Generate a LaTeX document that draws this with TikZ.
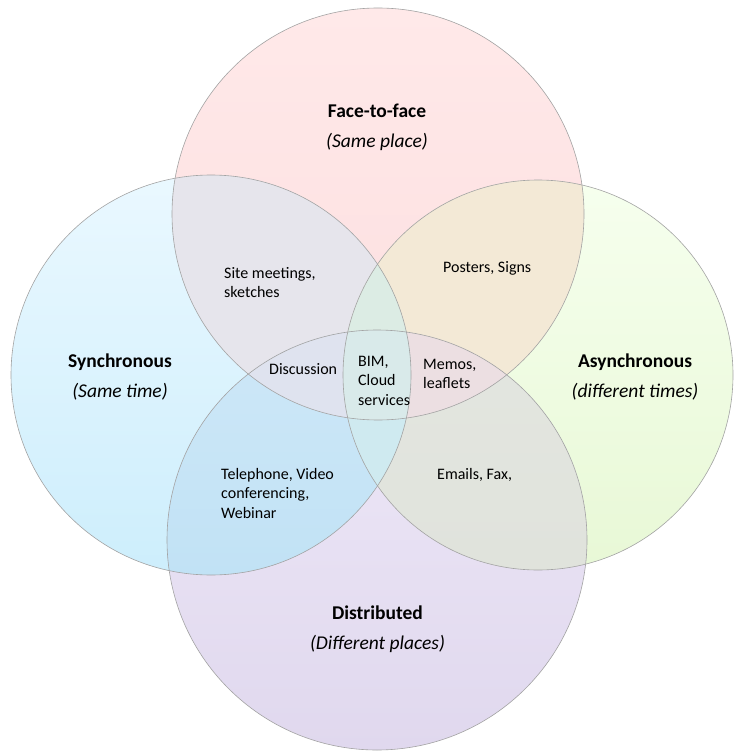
\documentclass[tikz,border=0pt]{standalone}
\usepackage{fontspec}
\setmainfont{Carlito}
\newcommand\LinesL[1]{\vtop{\halign{##\hfil\cr#1\crcr}}}
\newcommand\LinesC[1]{\vtop{\halign{\hfil##\hfil\cr#1\crcr}}}
\begin{document}
\begin{tikzpicture}[x=1pt,y=-1pt,
  outline/.style={draw=black!36,line width=0.6pt},
  body/.style={inner sep=0pt,anchor=base west,font=\fontsize{16}{19.5}\selectfont},
  ttl/.style={inner sep=0pt,anchor=base,font=\fontsize{19.5}{30}\selectfont}]
\definecolor{pinkT}{RGB}{255,233,233}\definecolor{pinkB}{RGB}{252,222,223}
\definecolor{cyanT}{RGB}{234,248,255}\definecolor{cyanB}{RGB}{205,238,252}
\definecolor{grnT}{RGB}{246,255,238}\definecolor{grnB}{RGB}{232,248,214}
\definecolor{purT}{RGB}{239,233,248}\definecolor{purB}{RGB}{224,216,238}
\definecolor{cTL}{RGB}{230,229,236}
\definecolor{cTR}{RGB}{243,233,214}
\definecolor{cLBt}{RGB}{214,235,249}\definecolor{cLBb}{RGB}{193,226,245}
\definecolor{cRBt}{RGB}{229,231,226}\definecolor{cRBb}{RGB}{224,227,220}
\definecolor{cTLB}{RGB}{223,227,239}
\definecolor{cTRB}{RGB}{236,223,226}
\definecolor{cTLR}{RGB}{220,236,228}
\definecolor{cLRB}{RGB}{207,234,240}
\definecolor{cALL}{RGB}{217,234,234}
\useasboundingbox (0,0) rectangle (733,751);
\fill[white] (0,0) rectangle (733,751);
\coordinate (cT) at (378,214);
\coordinate (cL) at (211,375);
\coordinate (cR) at (538,375);
\coordinate (cB) at (377,540);
\def\rT{206}\def\rL{200}\def\rR{195}\def\rB{210}
% single regions
\shade[top color=pinkT,bottom color=pinkB] (cT) circle (\rT);
\shade[top color=cyanT,bottom color=cyanB] (cL) circle (\rL);
\shade[top color=grnT,bottom color=grnB] (cR) circle (\rR);
\shade[top color=purT,bottom color=purB] (cB) circle (\rB);
% pairs
\begin{scope}\clip (cT) circle (\rT); \fill[cTL] (cL) circle (\rL); \end{scope}
\begin{scope}\clip (cT) circle (\rT); \fill[cTR] (cR) circle (\rR); \end{scope}
\begin{scope}\clip (cB) circle (\rB); \shade[top color=cLBt,bottom color=cLBb] (cL) circle (\rL); \end{scope}
\begin{scope}\clip (cB) circle (\rB); \shade[top color=cRBt,bottom color=cRBb] (cR) circle (\rR); \end{scope}
% triples
\begin{scope}\clip (cT) circle (\rT); \clip (cL) circle (\rL); \fill[cTLB] (cB) circle (\rB); \end{scope}
\begin{scope}\clip (cT) circle (\rT); \clip (cR) circle (\rR); \fill[cTRB] (cB) circle (\rB); \end{scope}
\begin{scope}\clip (cT) circle (\rT); \clip (cL) circle (\rL); \fill[cTLR] (cR) circle (\rR); \end{scope}
\begin{scope}\clip (cL) circle (\rL); \clip (cR) circle (\rR); \fill[cLRB] (cB) circle (\rB); \end{scope}
% all four
\begin{scope}\clip (cT) circle (\rT); \clip (cL) circle (\rL); \clip (cR) circle (\rR); \fill[cALL] (cB) circle (\rB); \end{scope}
% outlines
\draw[outline] (cT) circle (\rT);
\draw[outline] (cL) circle (\rL);
\draw[outline] (cR) circle (\rR);
\draw[outline] (cB) circle (\rB);

\node[ttl] (t1) at (377,118) {\LinesC{\textbf{Face-to-face}\cr\textit{(Same place)}}};
\node[ttl] (t2) at (120,367) {\LinesC{\textbf{Synchronous}\cr\textit{(Same time)}}};
\node[ttl] (t3) at (635,367) {\LinesC{\textbf{Asynchronous}\cr\textit{(different times)}}};
\node[ttl] (t4) at (377.5,619) {\LinesC{\textbf{Distributed}\cr\textit{(Different places)}}};

\node[body] (s1) at (224,278) {\LinesL{Site meetings,\cr sketches}};
\node[body] (s2) at (443,272) {Posters, Signs};
\node[body] (s3) at (269,374) {Discussion};
\node[body] (s4) at (358,366) {\LinesL{BIM,\cr Cloud\cr services}};
\node[body] (s5) at (423,369) {\LinesL{Memos,\cr leaflets}};
\node[body] (s6) at (221,479) {\LinesL{Telephone, Video\cr conferencing,\cr Webinar}};
\node[body] (s7) at (437,479) {Emails, Fax,};
\end{tikzpicture}
\end{document}
